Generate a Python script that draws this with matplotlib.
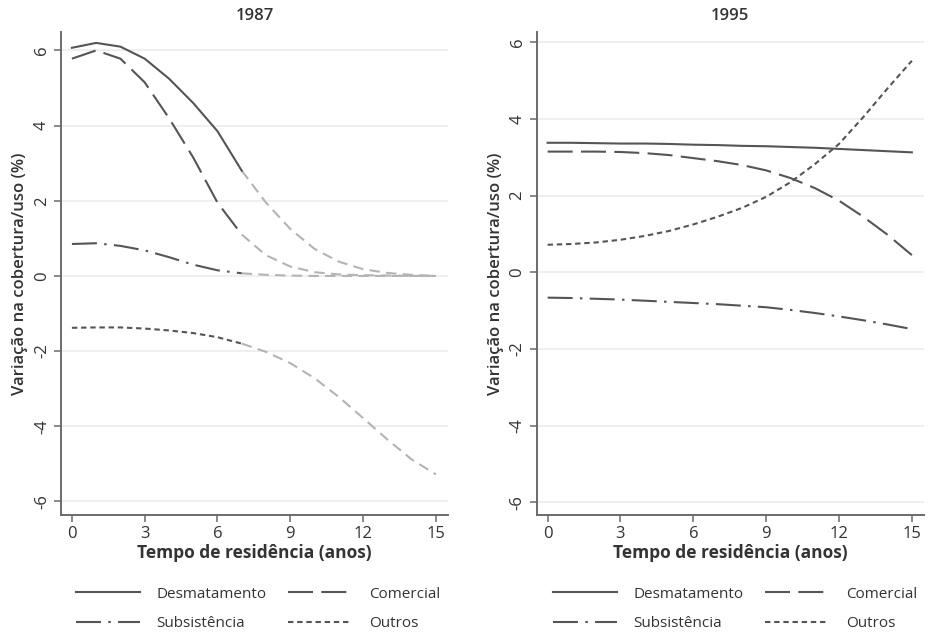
import matplotlib
matplotlib.use("Agg")
import matplotlib.pyplot as plt
from matplotlib.lines import Line2D

plt.rcParams['font.family'] = ['Open Sans', 'DejaVu Sans']

years = list(range(16))

# 1987 panel
desm_1987 = [6.07, 6.20, 6.10, 5.78, 5.25, 4.60, 3.85, 2.80, 1.95, 1.25, 0.72, 0.38, 0.18, 0.08, 0.03, 0.00]
com_1987 = [5.78, 6.00, 5.78, 5.15, 4.20, 3.15, 1.95, 1.10, 0.55, 0.25, 0.10, 0.04, 0.02, 0.01, 0.00, 0.00]
sub_1987 = [0.85, 0.87, 0.80, 0.68, 0.50, 0.30, 0.15, 0.07, 0.03, 0.01, 0.00, 0.00, 0.00, 0.00, 0.00, 0.00]
out_1987 = [-1.38, -1.37, -1.37, -1.40, -1.45, -1.52, -1.63, -1.80, -2.02, -2.32, -2.72, -3.22, -3.78, -4.35, -4.88, -5.28]
signif_until_1987 = 7  # index after which the curves are drawn light

# 1995 panel
desm_1995 = [3.38, 3.38, 3.37, 3.36, 3.36, 3.35, 3.33, 3.32, 3.30, 3.29, 3.27, 3.25, 3.22, 3.19, 3.16, 3.13]
com_1995 = [3.15, 3.15, 3.15, 3.14, 3.11, 3.06, 2.98, 2.90, 2.80, 2.66, 2.46, 2.20, 1.87, 1.45, 0.98, 0.45]
sub_1995 = [-0.66, -0.67, -0.69, -0.71, -0.74, -0.77, -0.80, -0.83, -0.87, -0.91, -0.98, -1.06, -1.15, -1.25, -1.36, -1.48]
out_1995 = [0.72, 0.74, 0.78, 0.85, 0.95, 1.08, 1.25, 1.45, 1.68, 1.97, 2.35, 2.82, 3.35, 4.05, 4.80, 5.52]

labels = ["Desmatamento", "Comercial", "Subsistência", "Outros"]
xticks = [0, 3, 6, 9, 12, 15]
yticks = [-6, -4, -2, 0, 2, 4, 6]

dark = "#555555"
light = "#b4b4b4"
txt = "#333333"
styles = ["-", (0, (12, 4)), (0, (12, 3.5, 1.2, 3.5)), (0, (2.6, 1.8))]
light_style = (0, (5, 3))
lw = 1.5

fig = plt.figure(figsize=(9.29, 6.32), dpi=100)
ax1 = fig.add_axes([61/929, 1-515/632, 387/929, 483/632])
ax2 = fig.add_axes([536.7/929, 1-515/632, 387.3/929, 483/632])

def style_axes(ax, title, ylim):
    ax.set_xlim(-0.45, 15.5)
    ax.set_ylim(*ylim)
    ax.set_xticks(xticks)
    ax.set_yticks(yticks)
    ax.set_yticklabels([str(v) for v in yticks], rotation=90, va="center")
    for s in ["top", "right"]:
        ax.spines[s].set_visible(False)
    for s in ["left", "bottom"]:
        ax.spines[s].set_color("#6a6a6a")
        ax.spines[s].set_linewidth(1.4)
    ax.tick_params(axis="both", colors="#6a6a6a", length=5, width=1.1, labelsize=12,
                   labelcolor=txt, pad=3)
    ax.grid(axis="y", color="#ececec", linewidth=1.2)
    ax.set_axisbelow(True)
    ax.set_title(title, fontsize=12, color=txt, pad=9, fontweight="semibold")
    ax.set_xlabel("Tempo de residência (anos)", fontsize=12.5, fontweight="bold", color=txt, labelpad=1)
    ax.set_ylabel("Variação na cobertura/uso (%)", fontsize=12, fontweight="semibold", color=txt, labelpad=4)

style_axes(ax1, "1987", (-6.36, 6.49))
style_axes(ax2, "1995", (-6.33, 6.27))

series_1987 = [desm_1987, com_1987, sub_1987, out_1987]
k = signif_until_1987
for vals, ls in zip(series_1987, styles):
    ax1.plot(years[k:], vals[k:], color=light, linestyle=light_style, linewidth=lw, zorder=2)
    ax1.plot(years[:k+1], vals[:k+1], color=dark, linestyle=ls, linewidth=lw, zorder=3)

series_1995 = [desm_1995, com_1995, sub_1995, out_1995]
for vals, ls in zip(series_1995, styles):
    ax2.plot(years, vals, color=dark, linestyle=ls, linewidth=lw, zorder=3)

handles = [Line2D([0], [0], color=dark, linestyle=ls, linewidth=lw) for ls in styles]
# row-wise order: column-major fill in matplotlib
order = [0, 2, 1, 3]
h_ord = [handles[i] for i in order]
l_ord = [labels[i] for i in order]
for ax, x0 in [(ax1, 62/929), (ax2, 539/929)]:
    leg = fig.legend(h_ord, l_ord, ncol=2, loc="upper left", bbox_to_anchor=(x0, 1-573/632),
                     frameon=False, fontsize=11, handlelength=4.2, handletextpad=1.1,
                     columnspacing=1.4, labelspacing=0.95)
    for t in leg.get_texts():
        t.set_color(txt)

fig.savefig("out.png", dpi=100, facecolor="white")
